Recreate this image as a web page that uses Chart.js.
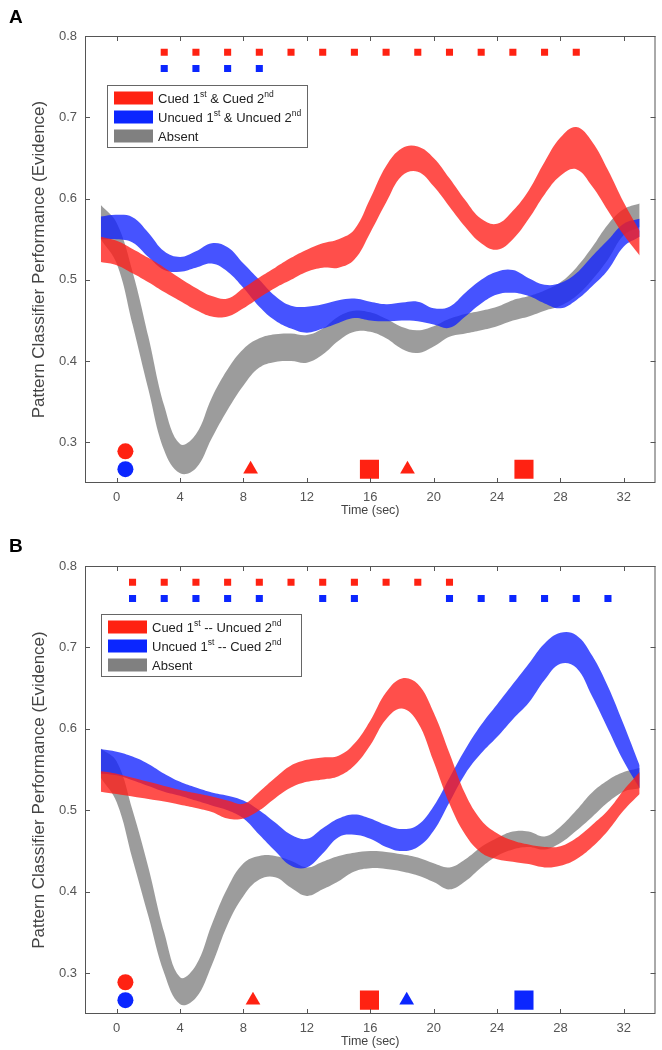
<!DOCTYPE html>
<html>
<head>
<meta charset="utf-8">
<script src="https://cdn.jsdelivr.net/npm/chart.js@4.4.0/dist/chart.umd.min.js"></script>
<style>
  body { margin: 0; background: #fff; overflow: hidden; }
  .panel { position: absolute; left: 0; width: 662px; overflow: hidden; }
</style>
</head>
<body>
<div class="panel" style="top:0;height:519px"><canvas id="chartA" width="669" height="519"></canvas></div>
<div class="panel" style="top:531px;height:519px"><canvas id="chartB" width="669" height="519"></canvas></div>
<script>
// time axis (sec)
const times = [-1, 0, 1, 2, 3, 4, 5, 6, 7, 8, 9, 10, 11, 12, 13, 14, 15, 16, 17, 18, 19, 20, 21, 22, 23, 24, 25, 26, 27, 28, 29, 30, 31, 32, 33];
const xTicks = [0, 4, 8, 12, 16, 20, 24, 28, 32];
const yTicks = [0.3, 0.4, 0.5, 0.6, 0.7, 0.8];

// Panel A bands (lower / upper)
const aRedLo  = [0.522, 0.518, 0.508, 0.497, 0.485, 0.474, 0.463, 0.455, 0.455, 0.465, 0.478, 0.49, 0.50, 0.51, 0.515, 0.515, 0.525, 0.558, 0.595, 0.628, 0.633, 0.615, 0.59, 0.565, 0.545, 0.537, 0.55, 0.575, 0.605, 0.628, 0.636, 0.615, 0.585, 0.555, 0.53];
const aRedHi  = [0.553, 0.548, 0.538, 0.527, 0.515, 0.502, 0.49, 0.48, 0.477, 0.49, 0.503, 0.515, 0.527, 0.537, 0.545, 0.55, 0.562, 0.60, 0.64, 0.662, 0.664, 0.65, 0.625, 0.598, 0.575, 0.569, 0.585, 0.61, 0.645, 0.675, 0.688, 0.67, 0.635, 0.595, 0.56];
const aBlueLo = [0.55, 0.55, 0.546, 0.528, 0.512, 0.51, 0.515, 0.52, 0.51, 0.49, 0.467, 0.45, 0.44, 0.435, 0.44, 0.447, 0.453, 0.45, 0.449, 0.45, 0.449, 0.445, 0.441, 0.455, 0.471, 0.482, 0.484, 0.48, 0.471, 0.465, 0.475, 0.492, 0.512, 0.541, 0.553];
const aBlueHi = [0.578, 0.58, 0.577, 0.558, 0.535, 0.528, 0.535, 0.545, 0.54, 0.52, 0.50, 0.48, 0.468, 0.467, 0.47, 0.475, 0.477, 0.473, 0.47, 0.472, 0.473, 0.465, 0.467, 0.484, 0.50, 0.51, 0.512, 0.502, 0.494, 0.496, 0.508, 0.529, 0.549, 0.569, 0.575];
const aGrayLo = [0.55, 0.52, 0.445, 0.365, 0.29, 0.262, 0.268, 0.305, 0.34, 0.37, 0.392, 0.399, 0.40, 0.398, 0.408, 0.425, 0.436, 0.436, 0.428, 0.415, 0.41, 0.418, 0.43, 0.434, 0.438, 0.443, 0.45, 0.455, 0.462, 0.468, 0.48, 0.50, 0.525, 0.555, 0.565];
const aGrayHi = [0.592, 0.57, 0.51, 0.43, 0.345, 0.298, 0.31, 0.355, 0.39, 0.415, 0.428, 0.433, 0.434, 0.432, 0.44, 0.455, 0.462, 0.46, 0.452, 0.442, 0.438, 0.443, 0.452, 0.458, 0.462, 0.467, 0.475, 0.48, 0.487, 0.497, 0.515, 0.54, 0.568, 0.587, 0.594];

// Panel B bands (lower / upper)
const bRedLo  = [0.523, 0.52, 0.517, 0.514, 0.511, 0.507, 0.503, 0.498, 0.49, 0.49, 0.50, 0.515, 0.528, 0.535, 0.538, 0.542, 0.555, 0.58, 0.612, 0.625, 0.608, 0.56, 0.508, 0.47, 0.448, 0.44, 0.437, 0.434, 0.43, 0.432, 0.44, 0.455, 0.475, 0.50, 0.52];
const bRedHi  = [0.548, 0.545, 0.54, 0.535, 0.53, 0.525, 0.521, 0.517, 0.512, 0.508, 0.523, 0.54, 0.555, 0.562, 0.565, 0.567, 0.582, 0.61, 0.645, 0.662, 0.655, 0.62, 0.57, 0.52, 0.488, 0.472, 0.463, 0.458, 0.455, 0.456, 0.466, 0.482, 0.50, 0.525, 0.547];
const bBlueLo = [0.545, 0.543, 0.537, 0.53, 0.523, 0.518, 0.512, 0.506, 0.50, 0.49, 0.47, 0.45, 0.432, 0.43, 0.447, 0.467, 0.47, 0.465, 0.455, 0.45, 0.455, 0.475, 0.51, 0.545, 0.57, 0.59, 0.612, 0.632, 0.66, 0.68, 0.675, 0.64, 0.60, 0.56, 0.527];
const bBlueHi = [0.575, 0.572, 0.566, 0.557, 0.545, 0.535, 0.528, 0.522, 0.518, 0.512, 0.50, 0.485, 0.47, 0.465, 0.478, 0.49, 0.495, 0.49, 0.482, 0.477, 0.482, 0.505, 0.54, 0.575, 0.605, 0.63, 0.655, 0.68, 0.705, 0.718, 0.715, 0.69, 0.652, 0.605, 0.555];
const bGrayLo = [0.54, 0.51, 0.44, 0.37, 0.30, 0.262, 0.27, 0.31, 0.36, 0.395, 0.415, 0.418, 0.405, 0.395, 0.403, 0.413, 0.425, 0.429, 0.428, 0.425, 0.42, 0.412, 0.403, 0.413, 0.43, 0.444, 0.452, 0.455, 0.452, 0.46, 0.475, 0.492, 0.51, 0.523, 0.527];
const bGrayHi = [0.576, 0.56, 0.50, 0.43, 0.35, 0.295, 0.31, 0.36, 0.405, 0.435, 0.444, 0.444, 0.438, 0.43, 0.437, 0.444, 0.448, 0.45, 0.449, 0.446, 0.442, 0.435, 0.43, 0.44, 0.455, 0.466, 0.474, 0.474, 0.468, 0.48, 0.50, 0.522, 0.537, 0.547, 0.552];

// significance rows (x positions)
const aSigRedX  = [3, 5, 7, 9, 11, 13, 15, 17, 19, 21, 23, 25, 27, 29];
const aSigBlueX = [3, 5, 7, 9];
const bSigRedX  = [1, 3, 5, 7, 9, 11, 13, 15, 17, 19, 21];
const bSigBlueX = [1, 3, 5, 7, 9, 13, 15, 21, 23, 25, 27, 29, 31];
const sigRedY = 0.78;
const sigBlueY = 0.76;

// event markers along the bottom
const cueX = 0.55;
const cueRedY = 0.289;
const cueBlueY = 0.267;
const eventY = 0.267;
const aRedTriX = [8.45, 18.35];
const aRedSqX  = [15.95, 25.7];
const bRedTriX = [8.6];
const bRedSqX  = [15.95];
const bBlueTriX = [18.3];
const bBlueSqX  = [25.7];

const aLegend = [
  [['Cued 1', 0], ['st', 1], [' & Cued 2', 0], ['nd', 1]],
  [['Uncued 1', 0], ['st', 1], [' & Uncued 2', 0], ['nd', 1]],
  [['Absent', 0]]
];
const bLegend = [
  [['Cued 1', 0], ['st', 1], [' -- Uncued 2', 0], ['nd', 1]],
  [['Uncued 1', 0], ['st', 1], [' -- Cued 2', 0], ['nd', 1]],
  [['Absent', 0]]
];

const RED = '#ff2212';
const BLUE = '#0b26ff';
const GRAY = '#808080';
const FONT = '"Liberation Sans", Arial, sans-serif';

function pts(xs, ys) {
  return xs.map((x, i) => ({ x: x, y: Array.isArray(ys) ? ys[i] : ys }));
}

function band(lo, hi, color) {
  return [
    { data: pts(times, hi), backgroundColor: color, borderWidth: 0, pointRadius: 0, fill: '+1', tension: 0.4 },
    { data: pts(times, lo), borderWidth: 0, pointRadius: 0, fill: false, tension: 0.4 }
  ];
}

function marks(xs, y, style, r, color) {
  return { type: 'scatter', data: pts(xs, y), pointStyle: style, pointRadius: r, backgroundColor: color,
           borderColor: color, borderWidth: 0, showLine: false };
}

// box around the plot, with inward ticks on all sides
const framePlugin = {
  id: 'frame',
  afterDraw(chart) {
    const { ctx, chartArea: a, scales: { x, y } } = chart;
    ctx.save();
    ctx.strokeStyle = '#555';
    ctx.lineWidth = 1;
    ctx.strokeRect(a.left + 0.5, a.top + 0.5, a.right - a.left - 1, a.bottom - a.top - 1);
    ctx.beginPath();
    xTicks.forEach(v => {
      const px = Math.round(x.getPixelForValue(v)) + 0.5;
      ctx.moveTo(px, a.bottom); ctx.lineTo(px, a.bottom - 5);
      ctx.moveTo(px, a.top); ctx.lineTo(px, a.top + 5);
    });
    yTicks.forEach(v => {
      const py = Math.round(y.getPixelForValue(v)) + 0.5;
      ctx.moveTo(a.left, py); ctx.lineTo(a.left + 5, py);
      ctx.moveTo(a.right, py); ctx.lineTo(a.right - 5, py);
    });
    ctx.stroke();
    ctx.restore();
  }
};

// legend box with superscripts + panel letter
const boxLegendPlugin = {
  id: 'boxLegend',
  afterDraw(chart, args, opts) {
    const ctx = chart.ctx;
    const b = opts.box;
    ctx.save();
    ctx.fillStyle = '#fff';
    ctx.fillRect(b.x, b.y, b.w, b.h);
    ctx.strokeStyle = '#666';
    ctx.lineWidth = 1;
    ctx.strokeRect(b.x + 0.5, b.y + 0.5, b.w, b.h);
    const colors = [RED, BLUE, GRAY];
    opts.items.forEach((parts, i) => {
      const cy = b.y + 13 + i * 19;
      ctx.fillStyle = colors[i];
      ctx.fillRect(b.x + 7, cy - 6.5, 39, 13);
      let tx = b.x + 51;
      ctx.fillStyle = '#222';
      ctx.textBaseline = 'alphabetic';
      parts.forEach(([txt, sup]) => {
        ctx.font = (sup ? '8.5px ' : '13px ') + FONT;
        ctx.fillText(txt, tx, cy + (sup ? -1 : 4.5));
        tx += ctx.measureText(txt).width;
      });
    });
    ctx.font = 'bold 19px ' + FONT;
    ctx.fillStyle = '#000';
    ctx.fillText(opts.letter, 9, opts.letterY);
    ctx.restore();
  }
};

function makePanel(id, top, datasets, legendItems, box, letter, letterY) {
  return new Chart(document.getElementById(id), {
    type: 'line',
    data: { datasets: datasets },
    options: {
      responsive: false,
      animation: false,
      events: [],
      layout: { padding: { top: top, right: 7, left: 0, bottom: 0 } },
      plugins: {
        legend: { display: false },
        tooltip: { enabled: false },
        boxLegend: { items: legendItems, box: box, letter: letter, letterY: letterY }
      },
      scales: {
        x: {
          type: 'linear', min: -2, max: 34,
          afterBuildTicks: s => { s.ticks = xTicks.map(v => ({ value: v })); },
          afterFit: s => { s.height = 36; s.paddingLeft = 0; s.paddingRight = 0; },
          grid: { display: false, drawTicks: false },
          border: { display: false },
          ticks: { padding: 7, color: '#555', font: { family: FONT, size: 13 } },
          title: { display: true, text: 'Time (sec)', color: '#444', font: { family: FONT, size: 12.5 }, padding: { top: 0, bottom: 1 } }
        },
        y: {
          min: 0.25, max: 0.8,
          afterBuildTicks: s => { s.ticks = yTicks.map(v => ({ value: v })); },
          afterFit: s => { s.width = 85; },
          grid: { display: false, drawTicks: false },
          border: { display: false },
          ticks: { padding: 8, color: '#555', font: { family: FONT, size: 13 }, callback: v => v.toFixed(1) },
          title: { display: true, text: 'Pattern Classifier Performance (Evidence)', color: '#444',
                   font: { family: FONT, size: 17 }, padding: { top: 29, bottom: 0 } }
        }
      }
    },
    plugins: [framePlugin, boxLegendPlugin]
  });
}

const redFill = 'rgba(255, 30, 24, 0.78)';
const blueFill = 'rgba(18, 34, 255, 0.78)';
const grayFill = 'rgba(118, 118, 118, 0.72)';

makePanel('chartA', 36, [
  marks(aSigRedX, sigRedY, 'rect', 5, RED),
  marks(aSigBlueX, sigBlueY, 'rect', 5, BLUE),
  marks([cueX], cueRedY, 'circle', 8, RED),
  marks([cueX], cueBlueY, 'circle', 8, BLUE),
  marks(aRedTriX, eventY, 'triangle', 8.5, RED),
  marks(aRedSqX, eventY, 'rect', 13.5, RED),
  ...band(aRedLo, aRedHi, redFill),
  ...band(aBlueLo, aBlueHi, blueFill),
  ...band(aGrayLo, aGrayHi, grayFill)
], aLegend, { x: 107, y: 85, w: 200, h: 62 }, 'A', 23);

makePanel('chartB', 35, [
  marks(bSigRedX, sigRedY, 'rect', 5, RED),
  marks(bSigBlueX, sigBlueY, 'rect', 5, BLUE),
  marks([cueX], cueRedY, 'circle', 8, RED),
  marks([cueX], cueBlueY, 'circle', 8, BLUE),
  marks(bRedTriX, eventY, 'triangle', 8.5, RED),
  marks(bRedSqX, eventY, 'rect', 13.5, RED),
  marks(bBlueTriX, eventY, 'triangle', 8.5, BLUE),
  marks(bBlueSqX, eventY, 'rect', 13.5, BLUE),
  ...band(bRedLo, bRedHi, redFill),
  ...band(bBlueLo, bBlueHi, blueFill),
  ...band(bGrayLo, bGrayHi, grayFill)
], bLegend, { x: 101, y: 83, w: 200, h: 62 }, 'B', 21);
</script>
</body>
</html>
